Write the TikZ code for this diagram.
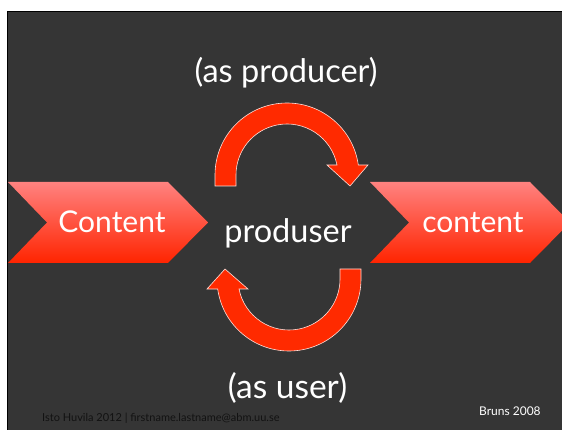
\documentclass[tikz,border=0pt]{standalone}
\usepackage{fontspec}
\setmainfont{Lato}
\definecolor{bgdark}{RGB}{53,53,53}
\definecolor{arrred}{RGB}{255,42,0}
\definecolor{chevtop}{RGB}{255,130,128}
\definecolor{chevbot}{RGB}{255,36,0}
\definecolor{foottxt}{RGB}{18,18,18}
\tikzset{
  chev/.style={top color=chevtop, bottom color=chevbot, draw=none},
  cyc/.style={fill=arrred, draw=white!85!arrred, line width=0.6pt},
  bigtxt/.style={text=white, font=\fontsize{30}{32}\selectfont, inner sep=0pt, anchor=base},
  bigger/.style={font=\fontsize{32.5}{34}\selectfont},
}
\begin{document}
\begin{tikzpicture}[x=1pt,y=1pt]
\useasboundingbox (0,0) rectangle (562,-430);
\fill[white] (0,0) rectangle (562,-430);
\begin{scope}
\clip (0,0) rectangle (562,-430);
\fill[bgdark] (7,-11) rectangle (563,-431);
\draw[black, line width=1.5pt] (7.5,-431) -- (7.5,-11.5) -- (563,-11.5);
% chevrons
\path[chev] (8,-182) -- (168,-182) -- (208,-222.5) -- (168,-263) -- (8,-263) -- (47,-222.5) -- cycle;
\path[chev] (370,-182) -- (530,-182) -- (570,-222.5) -- (530,-263) -- (370,-263) -- (409,-222.5) -- cycle;
% cycle arrows
\path[cyc] (215,-186) -- (215,-175) arc[start angle=180, end angle=8, radius=72]
  -- (368,-165) -- (350,-186) -- (327,-165) -- (337,-165)
  arc[start angle=11.3, end angle=180, radius=51] -- (236,-186) -- cycle;
\path[cyc] (340,-269) -- (361,-269) -- (361,-279) arc[start angle=0, end angle=-172, radius=72]
  -- (207,-289) -- (225,-269) -- (248,-289) -- (239,-289)
  arc[start angle=-168.7, end angle=0, radius=51] -- cycle;
\end{scope}
% texts
\node[bigtxt] (content1) at (112,-233) {Content};
\node[bigtxt] (content2) at (473,-233) {content};
\node[bigtxt, bigger] (produser) at (288,-243) {produser};
\node[bigtxt, bigger] (producer) at (286,-83) {(as producer)};
\node[bigtxt, font=\fontsize{33.5}{35}\selectfont] (user) at (287.5,-398) {(as user)};
\node[text=foottxt, font=\fontsize{11}{13}\selectfont, inner sep=0pt, anchor=base west] (foot) at (42,-421) {Isto Huvila 2012 | firstname.lastname@abm.uu.se};
\node[text=white, font=\fontsize{12}{14}\selectfont, inner sep=0pt, anchor=base west] (bruns) at (479,-415) {Bruns 2008};
\end{tikzpicture}
\end{document}
